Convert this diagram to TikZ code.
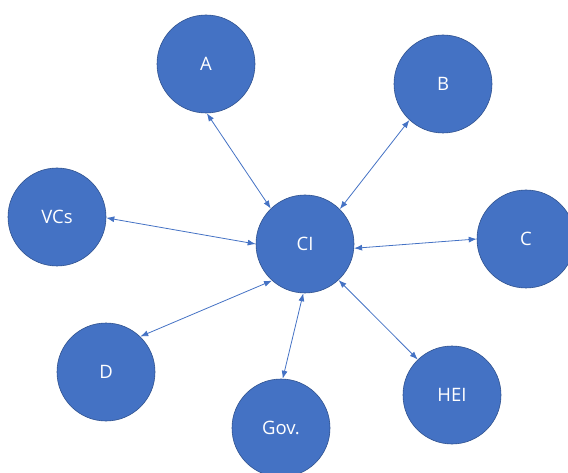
\documentclass[tikz,border=0pt]{standalone}
\usepackage{fontspec}
\setmainfont{Open Sans}
\usetikzlibrary{arrows.meta}

\definecolor{ActorFill}{HTML}{4472C4}
\definecolor{ActorLine}{HTML}{2F528F}
\definecolor{LinkColor}{HTML}{4472C4}

\tikzset{
  actor/.style={circle, fill=ActorFill, draw=ActorLine, line width=0.6pt,
    minimum size=98pt, inner sep=0pt, text=white, font=\fontsize{18.5}{22}\selectfont},
  link/.style={draw=LinkColor, line width=0.8pt,
    {Latex[length=8pt,width=6pt]}-{Latex[length=8pt,width=6pt]}}
}

\begin{document}
\begin{tikzpicture}[x=1pt,y=-1pt]
  % ===== Marco =====
  \clip (0,0) rectangle (568,473);
  \useasboundingbox (0,0) rectangle (568,473);

  % ===== Actores =====
  \node[actor] (ci)  at (305,244) {CI};
  \node[actor] (a)   at (206,64)  {A};
  \node[actor] (b)   at (443,84)  {B};
  \node[actor] (c)   at (526,239) {C};
  \node[actor] (vcs) at (57,217)  {VCs};
  \node[actor] (d)   at (106,372) {D};
  \node[actor] (gov) at (281,428) {Gov.};
  \node[actor] (hei) at (452,395) {HEI};

  % ===== Enlaces =====
  \draw[link] (a.-89)  -- (ci.134);
  \draw[link] (b.-133) -- (ci.45);
  \draw[link] (vcs.-1) -- (ci.180);
  \draw[link] (ci.-5)  -- (c.180);
  \draw[link] (d.46)   -- (ci.-132);
  \draw[link] (ci.-92) -- (gov.88);
  \draw[link] (ci.-47) -- (hei.134);

\end{tikzpicture}
\end{document}
